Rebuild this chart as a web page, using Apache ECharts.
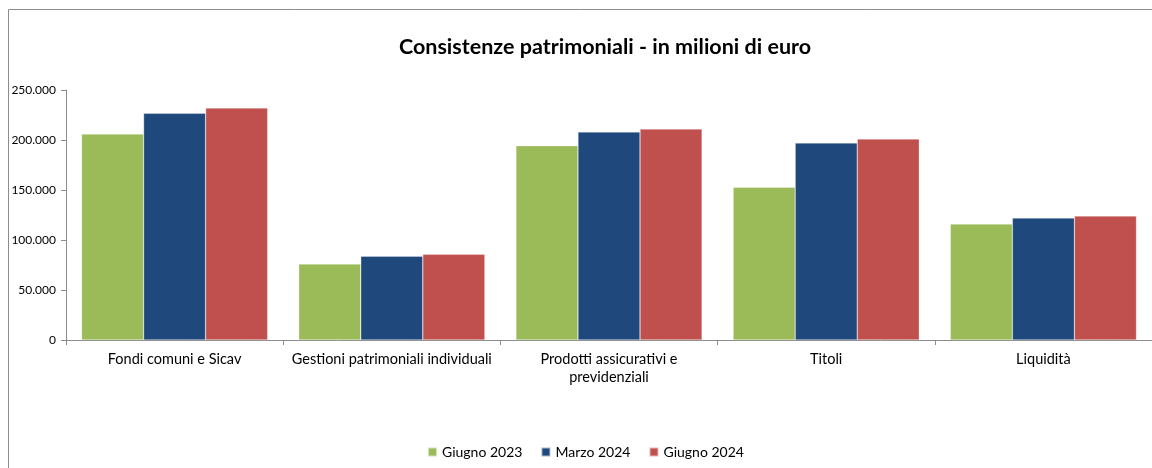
<!DOCTYPE html>
<html><head><meta charset="utf-8">
<script src="https://cdn.jsdelivr.net/npm/echarts@6/dist/echarts.min.js"></script>
<style>html,body{margin:0;padding:0;background:#fff;}#c{width:1152px;height:468px;}</style>
</head><body><div id="c"></div>
<script>
const categories = ['Fondi comuni e Sicav', 'Gestioni patrimoniali individuali', 'Prodotti assicurativi e\nprevidenziali', 'Titoli', 'Liquidità'];
const seriesNames = ['Giugno 2023', 'Marzo 2024', 'Giugno 2024'];
const giugno2023 = [206000, 76000, 194300, 152700, 116000];
const marzo2024 = [226700, 83700, 208000, 197000, 122000];
const giugno2024 = [232000, 85700, 211000, 201000, 124000];
const colors = ['#9BBB59', '#1F497D', '#C0504D'];

const chart = echarts.init(document.getElementById('c'));
const font = 'Lato, "Liberation Sans", sans-serif';
function fmt(v){ return v === 0 ? '0' : String(v).replace(/\B(?=(\d{3})+(?!\d))/g, '.'); }
chart.setOption({
  animation: false,
  textStyle: { fontFamily: font },
  title: { text: 'Consistenze patrimoniali - in milioni di euro', left: 600, top: 31, textAlign: 'center',
    textStyle: { fontFamily: font, fontSize: 21.5, fontWeight: 'bold', color: '#000' } },
  graphic: [{ type: 'rect', shape: { x: 8.5, y: 9.5, width: 1160, height: 480 },
    style: { fill: 'none', stroke: '#8c8c8c', lineWidth: 1 }, silent: true }],
  legend: { bottom: 4, left: 422, itemWidth: 9, itemHeight: 9, itemGap: 18, icon: 'rect',
    textStyle: { fontFamily: font, fontSize: 14, color: '#000' }, data: seriesNames },
  grid: { left: 66, top: 90, width: 1088.5, height: 250, containLabel: false },
  xAxis: { type: 'category', data: categories,
    axisLine: { lineStyle: { color: '#8c8c8c' } },
    axisTick: { show: true, length: 5, lineStyle: { color: '#8c8c8c' } },
    axisLabel: { color: '#000', fontSize: 14.5, fontFamily: font, margin: 10, lineHeight: 18, interval: 0 } },
  yAxis: { type: 'value', min: 0, max: 250000, interval: 50000,
    splitLine: { show: false },
    axisLine: { show: true, lineStyle: { color: '#8c8c8c' } },
    axisTick: { show: true, length: 5, lineStyle: { color: '#8c8c8c' } },
    axisLabel: { color: '#000', fontSize: 12, fontFamily: font, margin: 10, formatter: fmt } },
  series: [giugno2023, marzo2024, giugno2024].map((d, i) => ({
    name: seriesNames[i], type: 'bar', data: d, barGap: '0%', barCategoryGap: '14.3%',
    itemStyle: { color: colors[i], borderColor: 'rgba(255,255,255,0.6)', borderWidth: 0.5 }
  }))
});
</script></body></html>
